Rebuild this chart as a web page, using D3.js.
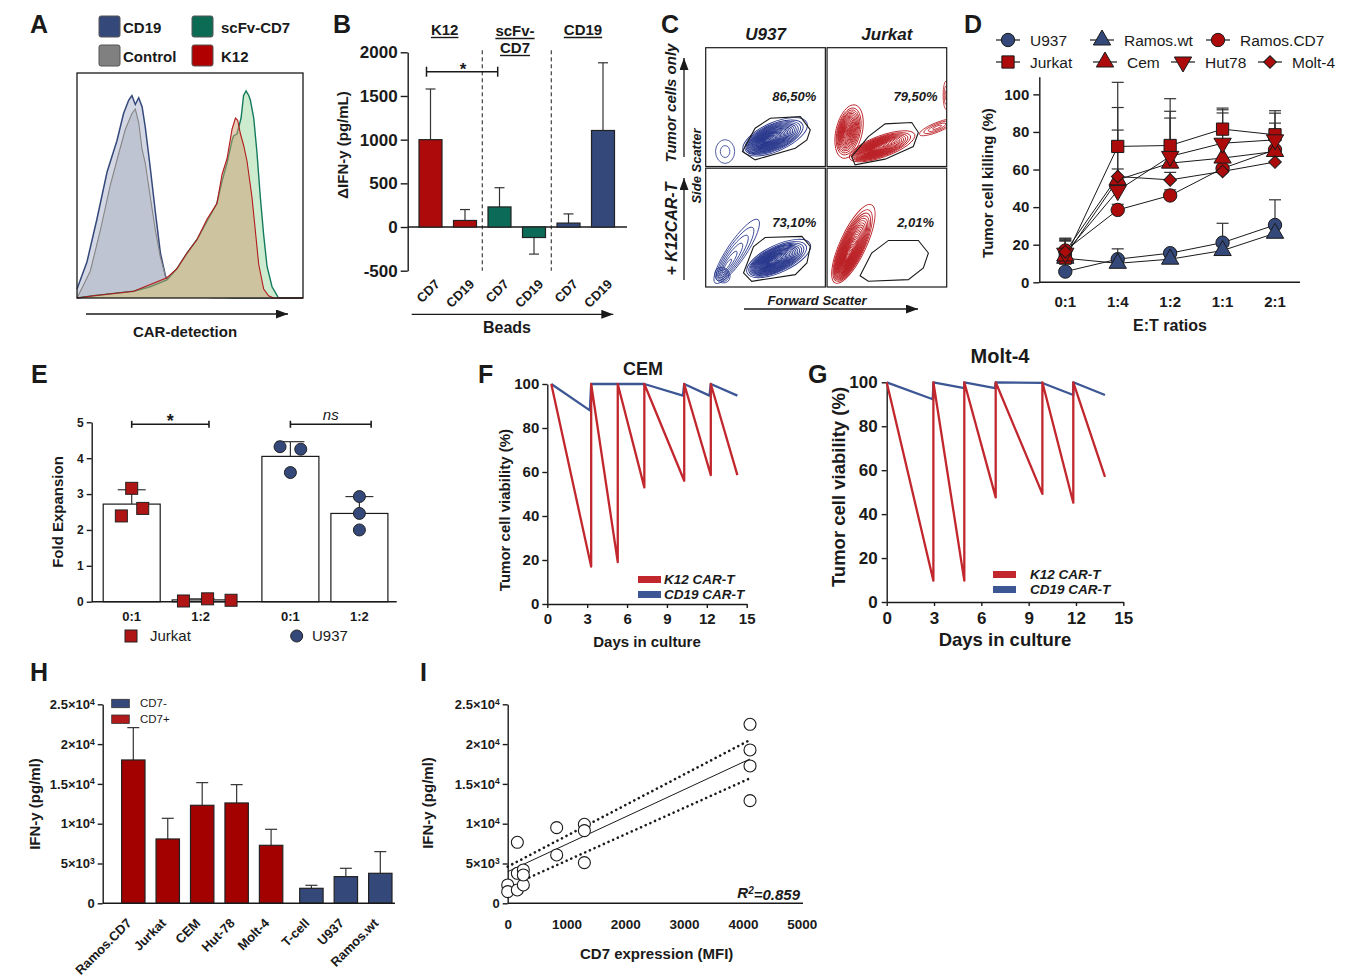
<!DOCTYPE html>
<html>
<head>
<meta charset="utf-8">
<title>K12 CAR-T figure</title>
<script src="https://d3js.org/d3.v7.min.js"></script>
<style>
  body { margin: 0; background: #fff; }
  svg text { font-family: "Liberation Sans", Arial, Helvetica, sans-serif; }
</style>
</head>
<body>
<svg id="fig" width="1359" height="978"></svg>
<script>
// ---------------- data ----------------
// A: CAR detection histograms, [channel 0-100, % of max]
const aCD19 = [[0,4],[4.4,16],[8.8,35],[13.3,56],[17.7,70],[20.6,82],[22.9,88],[24.3,90],[25.8,86],[27.3,89],[28.8,85],[30.2,76],[32.4,58],[34.7,38],[36.9,20],[39.1,10],[41.3,5],[44.2,3],[48.7,2],[54.6,1],[69.3,0],[100,0]];
const aControl = [[0,0],[1.5,3],[5.9,12],[10.3,30],[14.7,50],[18.4,64],[21.4,75],[24.3,82],[25.8,84],[27.3,78],[28.8,66],[30.2,60],[32.4,45],[34.7,30],[36.9,18],[39.1,10],[41.3,7],[44.2,6],[47.2,4],[51.6,1],[60,0],[100,0]];
const aScfv = [[0,0],[7.4,1],[25.1,3],[32.4,5],[39.8,8],[44.2,13],[48.7,20],[53.1,26],[57.5,34],[61.9,42],[64.2,52],[66.4,60],[68.6,70],[69.3,72],[70.8,73],[72.6,80],[73.7,90],[74.8,92],[76,90],[76.7,88],[78.2,80],[79.6,65],[81.1,45],[82.6,28],[84.1,14],[86.3,5],[89.2,0],[100,0]];
const aK12 = [[0,0],[7.4,1],[25.1,3],[32.4,6],[39.8,9],[44.2,13],[48.7,20],[53.1,26],[57.5,35],[61.9,42],[64.2,55],[66.4,62],[68.6,75],[70.1,80],[71.1,79],[72.3,73],[73.7,68],[75.2,61],[77.4,45],[78.9,30],[80.4,15],[82.6,4],[84.8,1],[87,0],[100,0]];
const aLegend = ["CD19", "scFv-CD7", "Control", "K12"];

// B: delta IFN-y by CAR and bead
const bGroups = ["K12", "scFv-CD7", "CD19"];
const bBeads = ["CD7", "CD19", "CD7", "CD19", "CD7", "CD19"];
const bMean = [1000, 75, 230, -120, 45, 1105];
const bErrTip = [1580, 200, 450, -310, 150, 1880];
const bTicks = [-500, 0, 500, 1000, 1500, 2000];

// C: flow plots, FSC/SSC on 0-100 scale
const cCols = ["U937", "Jurkat"];
const cRows = ["Tumor cells only", "+ K12CAR-T"];
const cPct = ["86,50%", "79,50%", "73,10%", "2,01%"];
const cGates = [
  [[30.7,12.6],[41.3,32.2],[53.9,40.6],[79.1,42],[87.4,30.8],[84.6,22.4],[74.9,15.4],[41.3,5.6]],
  [[20.6,8.4],[34.5,25.2],[48.5,35.9],[70.8,37],[76.3,28.6],[72.1,16.8],[48.5,6.2],[23.4,1.4]],
  [[31.6,11.8],[40,34],[49.7,41.7],[80.4,42.6],[87.4,34.2],[84.6,20.2],[74.9,10.4],[38.5,4.8]],
  [[27.6,9.5],[37.3,28.6],[51.3,39.2],[76.3,39.2],[84.7,28.6],[80.5,16],[68,6.2],[34.5,4.8]]
];
// populations: [cx, cy, rx, ry, angle, contour levels, core shift]
const cPops = [
  [[58,25,29,12,24,28,-0.35],[16.2,12.6,8,10,0,2,0]],
  [[18.4,29.4,11,23,-13,20,-0.25],[46,17,29,9,20,28,-0.35],[92,33,16,4,22,4,0],[99.5,60,2.5,12,0,3,0]],
  [[61,24,29,11.5,25,28,-0.35],[25.9,30,32,8,56,6,-0.5],[14,10,6,7,40,5,0]],
  [[22,36.3,36,11,65,30,-0.45]]
];

// D: killing vs E:T ratio
const dRatios = ["0:1", "1:4", "1:2", "1:1", "2:1"];
const dU937 = [5.7, 12.3, 15.5, 21.1, 30.5], dU937Sd = [4, 5.5, 1.5, 10.3, 13.4];
const dRamosWt = [12.8, 10.1, 12.3, 16.9, 26.1], dRamosWtSd = [3, 2, 2, 2.5, 3.6];
const dRamosCD7 = [16.9, 38.5, 46.2, 60.6, 70.5], dRamosCD7Sd = [5, 3, 3, 4, 5];
const dJurkat = [13, 72.3, 72.8, 81.5, 78.5], dJurkatSd = [10, 34.1, 24.9, 11.2, 12.8];
const dCem = [14, 54.5, 63.4, 66.1, 69.6], dCemSd = [9, 38.5, 27.6, 24, 20.4];
const dHut78 = [15.5, 48.8, 67, 74, 75.8], dHut78Sd = [8, 32.2, 20.4, 17.8, 8.9];
const dMolt4 = [16.3, 56.3, 54.5, 59, 64], dMolt4Sd = [6, 4, 4, 5, 6];

// E: fold expansion
const eGroups = ["0:1", "1:2", "0:1", "1:2"];
const ePos = [0, 1, 2.3, 3.3];
const eMean = [2.72, 0.05, 4.05, 2.46];
const eSd = [0.4, 0.03, 0.41, 0.47];
const ePts = [[3.16, 2.39, 2.6], [0.02, 0.08, 0.04], [4.32, 4.25, 3.6], [2.93, 2.46, 2.0]];
const ePtOff = [[0, -0.15, 0.16], [-0.25, 0.1, 0.44], [-0.15, 0.15, 0], [0, 0, 0]];

// F: CEM serial killing
const fRedDays = [0.3, 3.3, 3.3, 5.3, 5.3, 7.3, 7.3, 10.3, 10.3, 12.3, 12.3, 14.3];
const fRedVals = [100, 17, 100, 19, 100, 53, 100, 56, 100, 58.6, 100, 58.6];
const fBlueDays = [0.3, 3.2, 3.3, 7.3, 10.2, 10.3, 12.2, 12.3, 14.3];
const fBlueVals = [100, 88, 100, 100, 94.7, 100, 94.7, 100, 94.7];

// G: Molt-4 serial killing
const gRedDays = [0, 2.96, 2.96, 4.92, 4.92, 6.91, 6.91, 9.87, 9.87, 11.83, 11.83, 13.84];
const gRedVals = [100, 9.7, 100, 9.7, 100, 47.6, 100, 49.2, 100, 45.2, 100, 57];
const gBlueDays = [0, 2.92, 2.96, 4.92, 4.92, 6.87, 6.91, 9.87, 11.83, 11.83, 13.84];
const gBlueVals = [100, 92.3, 100, 97.3, 100, 97.3, 100, 99.7, 94.2, 100, 94.2];
const dayTicks = [0, 3, 6, 9, 12, 15];

// H: IFN-y per target
const hCats = ["Ramos.CD7", "Jurkat", "CEM", "Hut-78", "Molt-4", "T-cell", "U937", "Ramos.wt"];
const hPos = [0, 1, 2, 3, 4, 5.17, 6.17, 7.17];
const hMean = [18006, 8082, 12312, 12605, 7286, 1884, 3350, 3769];
const hErrTip = [22069, 10678, 15159, 14908, 9296, 2261, 4397, 6491];
const hCD7pos = [true, true, true, true, true, false, false, false];
const ifnTicks = [0, 5000, 10000, 15000, 20000, 25000];
const ifnTickBase = ["0", "5×10", "1×10", "1.5×10", "2×10", "2.5×10"];
const ifnTickExp = ["", "3", "4", "4", "4", "4"];

// I: IFN-y vs CD7 MFI
const iMFI = [0, 0, 164, 164, 164, 266, 266, 266, 833, 833, 1304, 1304, 1304, 4121, 4121, 4121, 4121];
const iIFN = [2303, 1466, 7663, 3769, 1675, 4188, 2303, 3560, 9506, 6072, 9924, 9129, 5109, 22487, 19263, 17253, 12898];
const iFit = [[0, 3978], [4121, 18132]];
const iUpper = [[0, 4606], [4121, 20519]];
const iLower = [[210, 2722], [4121, 15703]];

// ---------------- helpers ----------------
const INK = "#1a1a1a", RED = "#ad0b0b", BLUE = "#34487a", TEAL = "#0c6b58";
const plain = d => String(d);
const svg = d3.select("#fig");
const defs = svg.append("defs");
defs.append("marker").attr("id", "arrow").attr("markerUnits", "userSpaceOnUse")
  .attr("viewBox", "0 0 12 9").attr("refX", 12).attr("refY", 4.5)
  .attr("markerWidth", 12).attr("markerHeight", 9).attr("orient", "auto")
  .append("path").attr("d", "M0,0L12,4.5L0,9Z").attr("fill", INK);

function txt(g, s, x, y, size, o = {}) {
  const t = g.append("text").attr("x", x).attr("y", y).attr("font-size", size)
    .attr("font-weight", o.weight || "bold").attr("font-style", o.style || "normal")
    .attr("text-anchor", o.anchor || "start").attr("fill", o.fill || INK).text(s);
  if (o.rotate != null) t.attr("transform", `rotate(${o.rotate},${x},${y})`);
  return t;
}
function line(g, x1, y1, x2, y2, w = 1.3, col = INK) {
  return g.append("line").attr("x1", x1).attr("y1", y1).attr("x2", x2).attr("y2", y2)
    .attr("stroke", col).attr("stroke-width", w);
}
function arrow(g, x1, y1, x2, y2) { line(g, x1, y1, x2, y2, 1.3).attr("marker-end", "url(#arrow)"); }
function styleAxis(g, size) {
  g.attr("font-family", null).attr("font-size", size).attr("font-weight", "bold");
  g.selectAll("path, line").attr("stroke", INK).attr("stroke-width", 1.4);
  g.selectAll("text").attr("fill", INK);
}
function errBar(g, x, y1, y2, cap) {
  line(g, x, y1, x, y2, 1.2, "#333");
  line(g, x - cap / 2, y2, x + cap / 2, y2, 1.2, "#333");
}
function ifnAxis(g, x, scale) {
  g.append("g").attr("transform", `translate(${x},0)`)
    .call(d3.axisLeft(scale).tickValues(ifnTicks).tickSize(5).tickSizeOuter(0).tickPadding(3))
    .call(a => styleAxis(a, 13))
    .selectAll(".tick text").each(function (d, i) {
      const t = d3.select(this).text(ifnTickBase[i]);
      if (ifnTickExp[i]) t.append("tspan").attr("dy", "-0.5em").attr("font-size", 8.5).text(ifnTickExp[i]);
    });
}

// panel letters
[["A", 30, 33], ["B", 333, 33], ["C", 661, 33], ["D", 964, 33], ["E", 31, 383],
 ["F", 478, 383], ["G", 808, 383], ["H", 30, 681], ["I", 420, 681]]
  .forEach(([l, x, y]) => txt(svg, l, x, y, 25));

// ---------------- A ----------------
const gA = svg.append("g");
const aX = d3.scaleLinear().domain([0, 100]).range([77, 303]);
const aY = d3.scaleLinear().domain([0, 100]).range([298, 73]);
const aArea = d3.area().x(d => aX(d[0])).y0(aY(0)).y1(d => aY(d[1]));
const aLine = d3.line().x(d => aX(d[0])).y(d => aY(d[1]));
[[aCD19, "#d3d8e4", 1, BLUE, 1.5], [aControl, "#7c8090", 0.22, "#858585", 1.1],
 [aScfv, "#cdeccf", 1, "#137a5e", 1.4], [aK12, "#cd9c70", 0.5, "#b3191b", 1.1]]
  .forEach(([d, fill, op, stroke, w]) => {
    gA.append("path").attr("d", aArea(d)).attr("fill", fill).attr("fill-opacity", op);
    gA.append("path").attr("d", aLine(d)).attr("fill", "none").attr("stroke", stroke).attr("stroke-width", w);
  });
gA.append("rect").attr("x", 77).attr("y", 73).attr("width", 226).attr("height", 225)
  .attr("fill", "none").attr("stroke", INK).attr("stroke-width", 1.3);
const aSw = ["#34487a", "#0b6b55", "#808080", "#b00000"];
aLegend.forEach((s, i) => {
  const x = i % 2 ? 192 : 99, y = i < 2 ? 16 : 45;
  gA.append("rect").attr("x", x).attr("y", y).attr("width", 21).attr("height", 21).attr("rx", 2)
    .attr("fill", aSw[i]).attr("stroke", "#555");
  txt(gA, s, x + (i % 2 ? 29 : 24), y + 17, 15);
});
arrow(gA, 86, 314, 288, 314);
txt(gA, "CAR-detection", 185, 337, 15, { anchor: "middle" });

// ---------------- B ----------------
const gB = svg.append("g");
const bX = d3.scaleLinear().domain([0, 5]).range([430.5, 603]);
const bY = d3.scaleLinear().domain([-500, 2000]).range([270.7, 52.3]);
gB.append("g").attr("transform", "translate(407.7,0)")
  .call(d3.axisLeft(bY).tickValues(bTicks).tickFormat(plain).tickSize(7).tickSizeOuter(0).tickPadding(3))
  .call(a => styleAxis(a, 17));
line(gB, 407.7, bY(0), 627, bY(0), 1.4);
[1.5, 3.5].forEach(p => line(gB, bX(p), bY(2000) - 2, bX(p), bY(-500), 1).attr("stroke-dasharray", "4,3"));
const bCol = [RED, RED, TEAL, TEAL, BLUE, BLUE];
bMean.forEach((v, i) => {
  errBar(gB, bX(i), bY(v), bY(bErrTip[i]), 10);
  gB.append("rect").attr("x", bX(i) - 11.5).attr("width", 23)
    .attr("y", Math.min(bY(v), bY(0))).attr("height", Math.abs(bY(v) - bY(0)))
    .attr("fill", bCol[i]).attr("stroke", "#222").attr("stroke-width", 1.2);
  txt(gB, bBeads[i], bX(i) + 10, 285, 13, { anchor: "end", rotate: -45 });
});
[[bGroups[0], 444.7, 35], ["scFv-", 515, 36], ["CD7", 515, 53], [bGroups[2], 583, 35]].forEach(([s, x, y]) => {
  const t = txt(gB, s, x, y, 15, { anchor: "middle" });
  const w = t.node().getComputedTextLength();
  line(gB, x - w / 2, y + 2.5, x + w / 2, y + 2.5, 1.4);
});
line(gB, bX(0) - 4, 71.7, 497.7, 71.7, 1.5);
line(gB, bX(0) - 4, 66.7, bX(0) - 4, 76.7, 1.5);
line(gB, 497.7, 66.7, 497.7, 76.7, 1.5);
txt(gB, "*", 463, 75, 17, { anchor: "middle" });
txt(gB, "ΔIFN-y (pg/mL)", 348, 145, 15, { anchor: "middle", rotate: -90 });
arrow(gB, 411.7, 314.3, 613.3, 314.3);
txt(gB, "Beads", 507, 333, 16, { anchor: "middle" });

// ---------------- C ----------------
const gC = svg.append("g");
const cX = d3.scaleBand().domain(cCols).range([705.7, 946.7]).paddingInner(0.014);
const cY = d3.scaleBand().domain(cRows).range([47.7, 287]).paddingInner(0.014);
cRows.forEach((row, r) => cCols.forEach((colName, c) => {
  const k = r * 2 + c;
  const x0 = cX(colName), y0 = cY(row), w = cX.bandwidth(), h = cY.bandwidth();
  const fx = d3.scaleLinear().domain([0, 100]).range([x0, x0 + w]);
  const fy = d3.scaleLinear().domain([0, 100]).range([y0 + h, y0]);
  defs.append("clipPath").attr("id", "clipC" + k).append("rect")
    .attr("x", x0).attr("y", y0).attr("width", w).attr("height", h);
  const cell = gC.append("g").attr("clip-path", `url(#clipC${k})`);
  const stroke = c === 0 ? "#28378c" : "#bb2227";
  cPops[k].forEach(([cx, cy, rx, ry, ang, n, shift]) => {
    const rad = ang * Math.PI / 180;
    d3.range(n).forEach(i => {
      // contour levels crowd toward the dense core
      const s = n > 6 ? 1 - Math.pow(i / n, 0.7) : 1 - i / n;
      const off = shift * rx * (1 - s);
      const px = fx(cx + off * Math.cos(rad)), py = fy(cy + off * Math.sin(rad));
      cell.append("ellipse").attr("cx", px).attr("cy", py)
        .attr("rx", fx(rx * s) - fx(0)).attr("ry", fy(0) - fy(ry * s))
        .attr("transform", `rotate(${-ang},${px},${py})`)
        .attr("fill", "none").attr("stroke", stroke).attr("stroke-width", n > 6 ? 0.9 : 0.8);
    });
  });
  cell.append("path").attr("d", d3.line().x(d => fx(d[0])).y(d => fy(d[1])).curve(d3.curveLinearClosed)(cGates[k]))
    .attr("fill", "none").attr("stroke", INK).attr("stroke-width", 1.1);
  gC.append("rect").attr("x", x0).attr("y", y0).attr("width", w).attr("height", h)
    .attr("fill", "none").attr("stroke", INK).attr("stroke-width", 1.2);
  txt(gC, cPct[k], x0 + w * 0.74, y0 + (r ? 59 : 53), 13, { anchor: "middle", style: "italic" });
}));
cCols.forEach(s => txt(gC, s, cX(s) + cX.bandwidth() / 2, 40, 17, { anchor: "middle", style: "italic" }));
txt(gC, cRows[0], 676, 103, 15, { anchor: "middle", style: "italic", rotate: -90 });
txt(gC, cRows[1], 677, 229, 16, { anchor: "middle", style: "italic", rotate: -90 });
txt(gC, "Side Scatter", 701, 166, 13, { anchor: "middle", style: "italic", rotate: -90 });
arrow(gC, 684, 157, 684, 58);
arrow(gC, 684, 280, 684, 178);
txt(gC, "Forward Scatter", 817, 305, 13, { anchor: "middle", style: "italic" });
arrow(gC, 744, 309, 918, 309);

// ---------------- D ----------------
const gD = svg.append("g");
const dX = d3.scalePoint().domain(dRatios).range([1065.3, 1275]);
const dY = d3.scaleLinear().domain([0, 109.4]).range([282.3, 76.7]);
gD.append("g").attr("transform", "translate(1039.3,0)")
  .call(d3.axisLeft(dY).tickValues([0, 20, 40, 60, 80, 100]).tickSize(6).tickSizeOuter(0).tickPadding(4))
  .call(a => styleAxis(a, 15));
line(gD, 1039.3, 282.3, 1300, 282.3, 1.4);
dRatios.forEach(r => txt(gD, r, dX(r), 307, 15, { anchor: "middle" }));
txt(gD, "E:T ratios", 1170, 331, 16, { anchor: "middle" });
txt(gD, "Tumor cell killing (%)", 993, 183, 15, { anchor: "middle", rotate: -90 });
const dSeries = [
  ["U937", dU937, dU937Sd, BLUE, "circle"], ["Ramos.wt", dRamosWt, dRamosWtSd, BLUE, "triangle"],
  ["Ramos.CD7", dRamosCD7, dRamosCD7Sd, RED, "circle"], ["Jurkat", dJurkat, dJurkatSd, RED, "square"],
  ["Cem", dCem, dCemSd, RED, "triangle"], ["Hut78", dHut78, dHut78Sd, RED, "down"],
  ["Molt-4", dMolt4, dMolt4Sd, RED, "diamond"]
];
function marker(g, shape, x, y, fill) {
  const types = { circle: [d3.symbolCircle, 140, 0], square: [d3.symbolSquare, 150, 0],
    triangle: [d3.symbolTriangle, 130, 0], down: [d3.symbolTriangle, 130, 180], diamond: [d3.symbolSquare, 80, 45] };
  const [t, s, rot] = types[shape];
  g.append("path").attr("d", d3.symbol().type(t).size(s)())
    .attr("transform", `translate(${x},${y}) rotate(${rot})`)
    .attr("fill", fill).attr("stroke", INK).attr("stroke-width", 1);
}
const dLine = d3.line().x((d, i) => dX(dRatios[i])).y(d => dY(d));
dSeries.forEach(([, v]) => gD.append("path").attr("d", dLine(v)).attr("fill", "none").attr("stroke", INK).attr("stroke-width", 1));
dSeries.forEach(([, v, sd]) => v.forEach((m, i) => errBar(gD, dX(dRatios[i]), dY(m), dY(m + sd[i]), 12)));
dSeries.forEach(([, v, , col, shape]) => v.forEach((m, i) => marker(gD, shape, dX(dRatios[i]), dY(m), col)));
const dLegX = [1008, 1102, 1218, 1008, 1105, 1183, 1270], dLegY = [40, 40, 40, 62, 62, 62, 62];
dSeries.forEach(([name, , , col, shape], j) => {
  line(gD, dLegX[j] - 12, dLegY[j], dLegX[j] + 12, dLegY[j], 1.2);
  marker(gD, shape, dLegX[j], dLegY[j], col);
  txt(gD, name, dLegX[j] + 22, dLegY[j] + 5.5, 15.5, { weight: "normal" });
});

// ---------------- E ----------------
const gE = svg.append("g");
const eX = d3.scaleLinear().domain([0, 3.3]).range([131.7, 359.4]);
const eY = d3.scaleLinear().domain([0, 5]).range([601.7, 422.3]);
gE.append("g").attr("transform", "translate(91.7,0)")
  .call(d3.axisLeft(eY).ticks(5).tickSize(5).tickSizeOuter(0).tickPadding(3))
  .call(a => styleAxis(a, 12));
eMean.forEach((m, j) => {
  gE.append("rect").attr("x", eX(ePos[j]) - 28.5).attr("width", 57)
    .attr("y", eY(m)).attr("height", eY(0) - eY(m))
    .attr("fill", "#fff").attr("stroke", INK).attr("stroke-width", 1.2);
  errBar(gE, eX(ePos[j]), eY(m), eY(m + eSd[j]), 28);
});
line(gE, 91.7, eY(0), 396.7, eY(0), 1.4);
ePts.forEach((pts, j) => pts.forEach((v, i) => {
  const x = eX(ePos[j] + ePtOff[j][i]), y = eY(v);
  if (j < 2) gE.append("rect").attr("x", x - 6).attr("y", y - 6).attr("width", 12).attr("height", 12)
    .attr("fill", "#b01515").attr("stroke", "#222").attr("stroke-width", 1);
  else gE.append("circle").attr("cx", x).attr("cy", y).attr("r", 6)
    .attr("fill", BLUE).attr("stroke", "#222").attr("stroke-width", 1);
}));
eGroups.forEach((s, j) => txt(gE, s, eX(ePos[j]), 621, 13, { anchor: "middle" }));
[[ePos[0], ePos[1] + 0.12, "*", 427, "normal"], [ePos[2], ePos[3] + 0.17, "ns", 420, "italic"]].forEach(([p1, p2, s, ty, st]) => {
  const x1 = eX(p1), x2 = eX(p2);
  line(gE, x1, 424.3, x2, 424.3, 1.6);
  line(gE, x1, 420.8, x1, 427.8, 1.6);
  line(gE, x2, 420.8, x2, 427.8, 1.6);
  txt(gE, s, (x1 + x2) / 2, ty, s === "*" ? 18 : 15, { anchor: "middle", weight: s === "*" ? "bold" : "normal", style: st });
});
txt(gE, "Fold Expansion", 63, 512, 15, { anchor: "middle", rotate: -90 });
gE.append("rect").attr("x", 125).attr("y", 630).attr("width", 12).attr("height", 12)
  .attr("fill", "#b01515").attr("stroke", "#222");
txt(gE, "Jurkat", 150, 641, 15, { weight: "normal" });
gE.append("circle").attr("cx", 296.7).attr("cy", 636).attr("r", 6).attr("fill", BLUE).attr("stroke", "#222");
txt(gE, "U937", 312, 641, 15, { weight: "normal" });

// ---------------- F & G ----------------
function timecourse(o) {
  const g = svg.append("g");
  const x = d3.scaleLinear().domain([0, 15]).range(o.xr);
  const y = d3.scaleLinear().domain([0, 100]).range(o.yr);
  g.append("g").attr("transform", `translate(${o.xr[0]},0)`)
    .call(d3.axisLeft(y).tickValues([0, 20, 40, 60, 80, 100]).tickSize(5).tickSizeOuter(0).tickPadding(o.pad))
    .call(a => styleAxis(a, o.tick));
  g.append("g").attr("transform", `translate(0,${o.yr[0]})`)
    .call(d3.axisBottom(x).tickValues(dayTicks).tickSize(4).tickSizeOuter(0).tickPadding(o.pad + 2))
    .call(a => styleAxis(a, o.tick));
  const ln = d3.line().x(d => x(d[0])).y(d => y(d[1]));
  g.append("path").attr("d", ln(d3.zip(o.blueDays, o.blueVals))).attr("fill", "none")
    .attr("stroke", "#3d5795").attr("stroke-width", 2.3).attr("stroke-linejoin", "round");
  g.append("path").attr("d", ln(d3.zip(o.redDays, o.redVals))).attr("fill", "none")
    .attr("stroke", "#c1272d").attr("stroke-width", 2.3).attr("stroke-linejoin", "round");
  txt(g, o.title, o.titleX, o.titleY, o.titleSize, { anchor: "middle" });
  txt(g, "Days in culture", (o.xr[0] + o.xr[1]) / 2, o.xlabY, o.lab, { anchor: "middle" });
  txt(g, "Tumor cell viability (%)", o.ylabX, o.ylabY, o.lab, { anchor: "middle", rotate: -90 });
  [["K12 CAR-T", "#c1272d", 0], ["CD19 CAR-T", "#3d5795", 15]].forEach(([s, col, dy]) => {
    g.append("rect").attr("x", o.leg[0]).attr("y", o.leg[1] + dy).attr("width", 23).attr("height", 7).attr("fill", col);
    txt(g, s, o.leg[0] + 26 + o.legGap, o.leg[1] + dy + 8, 13.5, { style: "italic" });
  });
}
timecourse({ xr: [547.3, 746.7], yr: [604, 384], tick: 15, pad: 3, lab: 15,
  redDays: fRedDays, redVals: fRedVals, blueDays: fBlueDays, blueVals: fBlueVals,
  title: "CEM", titleX: 643, titleY: 375, titleSize: 18, xlabY: 647, ylabX: 510, ylabY: 510,
  leg: [638, 576], legGap: 0 });
timecourse({ xr: [886.7, 1123.3], yr: [602, 382.3], tick: 17, pad: 4, lab: 18.5,
  redDays: gRedDays, redVals: gRedVals, blueDays: gBlueDays, blueVals: gBlueVals,
  title: "Molt-4", titleX: 1000, titleY: 363, titleSize: 20, xlabY: 646, ylabX: 845, ylabY: 487,
  leg: [993, 571], legGap: 11 });

// ---------------- H ----------------
const gH = svg.append("g");
const hX = d3.scaleLinear().domain([0, 7.17]).range([133.3, 380.3]);
const hY = d3.scaleLinear().domain([0, 25000]).range([903.3, 704.3]);
ifnAxis(gH, 102.7, hY);
hMean.forEach((m, i) => {
  errBar(gH, hX(hPos[i]), hY(m), hY(hErrTip[i]), 12);
  gH.append("rect").attr("x", hX(hPos[i]) - 11.7).attr("width", 23.4)
    .attr("y", hY(m)).attr("height", hY(0) - hY(m))
    .attr("fill", hCD7pos[i] ? "#a30000" : BLUE).attr("stroke", "#222").attr("stroke-width", 1.2);
  txt(gH, hCats[i], hX(hPos[i]) - 1, 924, 13, { anchor: "end", rotate: -45 });
});
line(gH, 102.7, hY(0), 395, hY(0), 1.4);
[["CD7-", BLUE, 699.3], ["CD7+", "#b01a1a", 715]].forEach(([s, col, y]) => {
  gH.append("rect").attr("x", 111.7).attr("y", y).attr("width", 17.6).attr("height", 8.4)
    .attr("fill", col).attr("stroke", "#333").attr("stroke-width", 0.8);
  txt(gH, s, 140, y + 8, 11.5, { weight: "normal" });
});
txt(gH, "IFN-y (pg/ml)", 40, 804, 15, { anchor: "middle", rotate: -90 });

// ---------------- I ----------------
const gI = svg.append("g");
const iX = d3.scaleLinear().domain([0, 5000]).range([507.7, 801.7]);
const iY = d3.scaleLinear().domain([0, 25000]).range([903.3, 704.3]);
ifnAxis(gI, 507.7, iY);
line(gI, 507.7, iY(0), 803, iY(0), 1.4);
gI.append("g").attr("transform", `translate(0,${iY(0)})`)
  .call(d3.axisBottom(iX).ticks(5).tickFormat(plain).tickSize(0).tickPadding(16))
  .call(a => { styleAxis(a, 13.5); a.select(".domain").remove(); });
const iLn = d3.line().x(d => iX(d[0])).y(d => iY(d[1]));
gI.append("path").attr("d", iLn(iFit)).attr("stroke", INK).attr("stroke-width", 1).attr("fill", "none");
[iUpper, iLower].forEach(d => gI.append("path").attr("d", iLn(d)).attr("fill", "none")
  .attr("stroke", INK).attr("stroke-width", 2.6).attr("stroke-linecap", "round").attr("stroke-dasharray", "0.1,5"));
iMFI.forEach((m, i) => gI.append("circle").attr("cx", iX(m)).attr("cy", iY(iIFN[i])).attr("r", 6)
  .attr("fill", "#fff").attr("stroke", INK).attr("stroke-width", 1.1));
const r2 = txt(gI, "R", 800, 898, 15, { anchor: "end", style: "italic" });
r2.append("tspan").attr("dy", "-0.45em").attr("font-size", 10).text("2");
r2.append("tspan").attr("dy", "0.45em").text("=0.859");
txt(gI, "CD7 expression (MFI)", 656.7, 959, 15, { anchor: "middle" });
txt(gI, "IFN-y (pg/ml)", 433, 803, 15, { anchor: "middle", rotate: -90 });
</script>
</body>
</html>
